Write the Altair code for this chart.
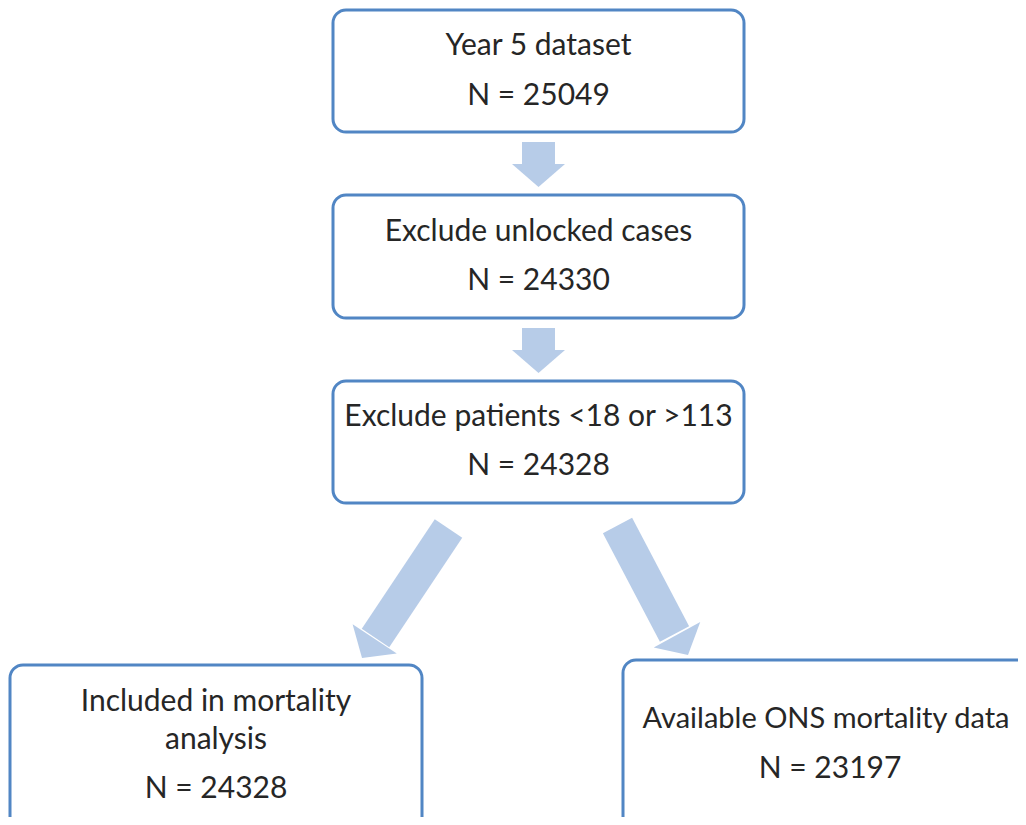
import altair as alt
import pandas as pd

# ---- content ----
steps = ["Year 5 dataset", "Exclude unlocked cases", "Exclude patients <18 or >113",
         "Included in mortality analysis", "Available ONS mortality data"]
step_lines = [["Year 5 dataset"], ["Exclude unlocked cases"], ["Exclude patients <18 or >113"],
              ["Included in mortality", "analysis"], ["Available ONS mortality data"]]
counts = [25049, 24330, 24328, 24328, 23197]

# ---- layout (pixel units of the picture) ----
box_x0 = [333, 333, 333, 10, 623]
box_x1 = [744, 744, 744, 422, 1040]
box_y0 = [10, 195, 381, 665, 660]
box_y1 = [132, 318, 503, 840, 840]
text_cx = [538.5, 538.5, 538.5, 216, 830]
title_cx = [538.5, 538.5, 538.5, 216, 826]
title_fs = [30, 30, 30, 30, 29]
text_y_first = [46, 232, 417, 702, 719]
line_gap = 38
count_y = [96, 281, 466, 789, 769]

arrow_x0 = [538.5, 538.5, 448.5, 617.5]
arrow_y0 = [142, 328, 528.5, 525.5]
arrow_x1 = [538.5, 538.5, 375.5, 674.5]
arrow_y1 = [167, 353, 638, 634]
tip_x = [538.5, 538.5, 362, 688]
tip_y = [187, 373, 658, 655]
tip_angle = [0, 0, 33.5, 331.4]

BORDER = "#5186C4"
ARROW = "#B7CCE8"
TEXT = "#262626"
FONT = "Lato"

boxes = pd.DataFrame({"x": box_x0, "x2": box_x1, "y": box_y0, "y2": box_y1, "step": steps})

rows = []
for i, lines in enumerate(step_lines):
    for j, ln in enumerate(lines):
        rows.append({"x": title_cx[i], "y": text_y_first[i] + j * line_gap, "t": ln, "fs": title_fs[i]})
    rows.append({"x": text_cx[i], "y": count_y[i], "t": f"N = {counts[i]}", "fs": 30})
texts = pd.DataFrame(rows)

shafts = pd.DataFrame({"x": arrow_x0, "y": arrow_y0, "x2": arrow_x1, "y2": arrow_y1})
heads = pd.DataFrame({"x": tip_x, "y": tip_y, "a": tip_angle})

W, H = 1010, 809
xs = alt.Scale(domain=[8, 8 + W], nice=False, zero=False)
ys = alt.Scale(domain=[8, 8 + H], nice=False, zero=False, reverse=True)
X = lambda f: alt.X(f, type="quantitative", scale=xs, axis=None)
Y = lambda f: alt.Y(f, type="quantitative", scale=ys, axis=None)

box_layer = alt.Chart(boxes).mark_rect(
    cornerRadius=13, fill="white", stroke=BORDER, strokeWidth=3, clip=True
).encode(x=X("x"), x2="x2", y=Y("y"), y2="y2")

shaft_layer = alt.Chart(shafts).mark_rule(
    color=ARROW, strokeWidth=33, strokeCap="butt"
).encode(x=X("x"), x2="x2", y=Y("y"), y2="y2")

head_path = "M -26.5 -23 L 26.5 -23 L 0 0 Z"
head_layer = alt.Chart(heads).mark_point(
    shape=head_path, size=4, filled=True, fill=ARROW, strokeWidth=0, opacity=1
).encode(x=X("x"), y=Y("y"), angle=alt.Angle("a:Q", scale=None))

text_layer = alt.Chart(texts).mark_text(
    font=FONT, color=TEXT, align="center", baseline="middle"
).encode(x=X("x"), y=Y("y"), text="t:N", size=alt.Size("fs:Q", scale=None))

chart = alt.layer(shaft_layer, head_layer, box_layer, text_layer).properties(
    width=W, height=H, padding=0, autosize=alt.AutoSizeParams(type="none"),
    background="white"
).configure_view(stroke=None)

chart.save("out.html", embed_options={"renderer": "svg", "actions": False})
